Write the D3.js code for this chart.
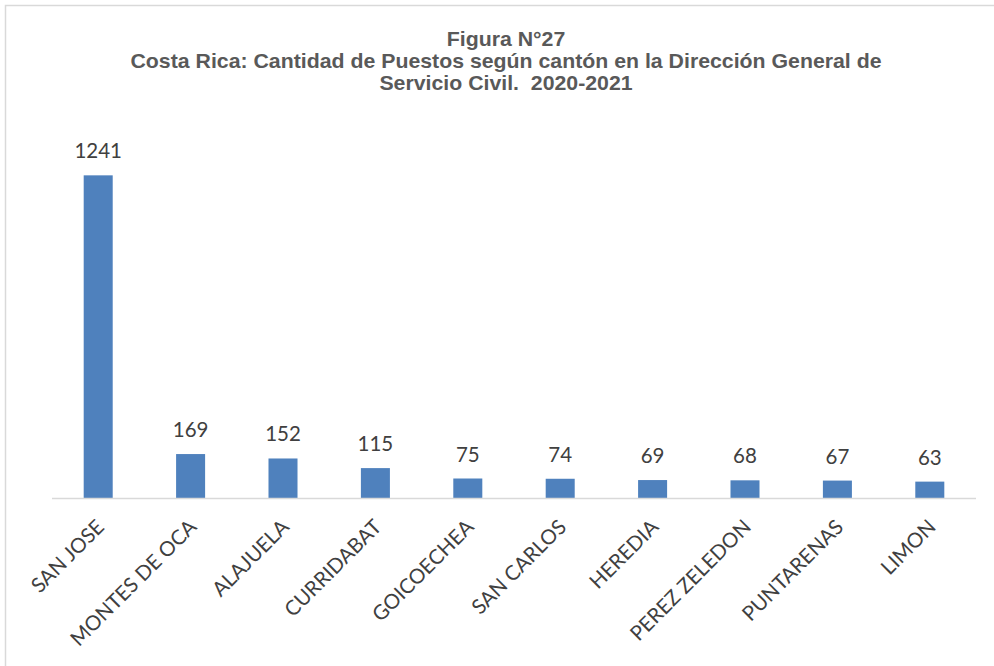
<!DOCTYPE html>
<html><head><meta charset="utf-8">
<script src="https://cdn.jsdelivr.net/npm/d3@7"></script>
<style>body{margin:0;background:#fff;}svg{display:block;} text{white-space:pre;}</style>
</head><body>
<svg id="chart" width="994" height="666"></svg>
<script>
const categories = ["SAN JOSE","MONTES DE OCA","ALAJUELA","CURRIDABAT","GOICOECHEA","SAN CARLOS","HEREDIA","PEREZ ZELEDON","PUNTARENAS","LIMON"];
const values = [1241,169,152,115,75,74,69,68,67,63];
const titleLines = ["Figura N°27","Costa Rica: Cantidad de Puestos según cantón en la Dirección General de","Servicio Civil.  2020-2021"];

const svg = d3.select("#chart");
svg.append("rect").attr("x",5.5).attr("y",5.5).attr("width",1000).attr("height",700)
  .attr("fill","#fff").attr("stroke","#d9d9d9").attr("stroke-width",1.5);

const margin = {left:52, right:18, top:134, bottom:168};
const W = 994, H = 666;
const x = d3.scaleBand().domain(categories).range([margin.left, W-margin.right]).paddingInner(0.686).paddingOuter(0.343);
const y = d3.scaleLinear().domain([0,1400]).range([H-margin.bottom, margin.top]);

const t = svg.append("text").attr("transform","translate(506,0) scale(1.092,1)").attr("text-anchor","middle")
  .attr("font-family","'Liberation Sans', Arial, sans-serif")
  .attr("font-weight","bold").attr("font-size",19.5).attr("fill","#595959");
titleLines.forEach((l,i)=>t.append("tspan").attr("x",0).attr("y",46.5+i*22).text(l));

svg.append("g").selectAll("rect").data(values).join("rect")
  .attr("x",(d,i)=>x(categories[i])).attr("width",x.bandwidth())
  .attr("y",d=>y(d)).attr("height",d=>y(0)-y(d)).attr("fill","#4f81bd");

svg.append("line").attr("x1",margin.left).attr("x2",W-margin.right).attr("y1",y(0)+0.5).attr("y2",y(0)+0.5)
  .attr("stroke","#d9d9d9").attr("stroke-width",1.5);

svg.append("g").selectAll("text").data(values).join("text")
  .attr("x",(d,i)=>x(categories[i])+x.bandwidth()/2).attr("y",d=>y(d)-17)
  .attr("text-anchor","middle").attr("font-family","Lato, 'Open Sans', sans-serif").attr("font-size",20.5)
  .attr("fill","#404040").text(d=>d);

svg.append("g").selectAll("text").data(categories).join("text")
  .attr("transform",d=>`translate(${x(d)+x.bandwidth()/2-3},${y(0)+20}) rotate(-45)`)
  .attr("text-anchor","end").attr("dy","0.71em").attr("font-family","Lato, 'Open Sans', sans-serif").attr("font-size",20.5)
  .attr("fill","#404040").text(d=>d);
</script>
</body></html>
